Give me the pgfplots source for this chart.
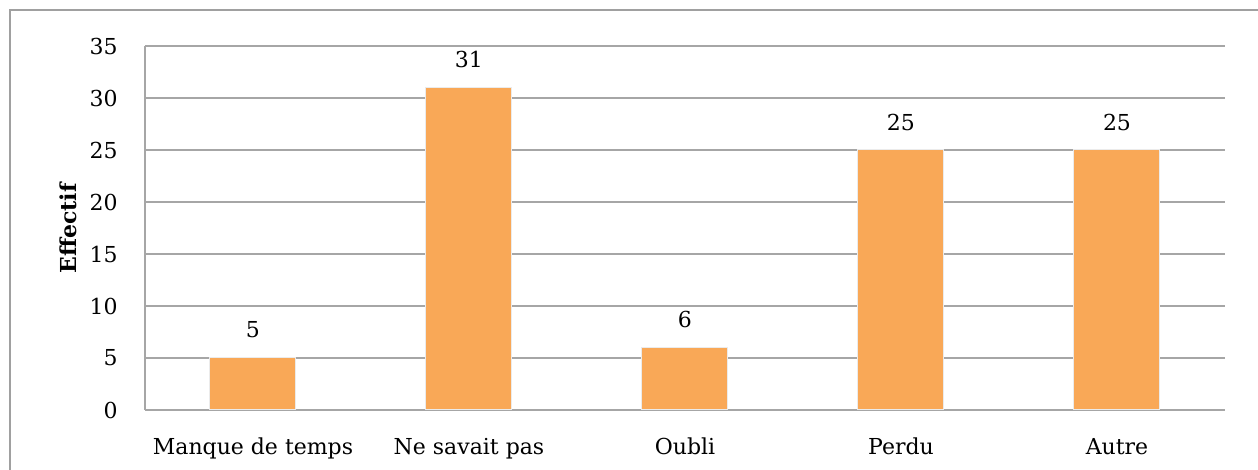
\documentclass[border=0pt]{standalone}
\usepackage{fontspec}
\setmainfont{DejaVu Serif}
\usepackage{pgfplots}
\pgfplotsset{compat=1.18}
\definecolor{barc}{HTML}{F9A857}
\definecolor{gridc}{HTML}{A6A6A6}
\definecolor{framec}{HTML}{A0A0A0}
\begin{document}
\fontsize{11pt}{13pt}\selectfont
\begin{tikzpicture}
\useasboundingbox (-72.5pt,-30pt) rectangle (556.5pt,205pt);
\begin{scope}
\clip (-72.5pt,-30pt) rectangle (556.5pt,205pt);
\draw[framec, line width=0.6pt] (-67.5pt,-60pt) rectangle (600pt,200pt);
\end{scope}
\begin{axis}[
  at={(0pt,0pt)}, anchor=south west,
  scale only axis,
  width=540pt, height=182pt,
  xmin=-0.5, xmax=4.5,
  ymin=0, ymax=35,
  ytick={0,5,...,35},
  xtick=data,
  xticklabels={Manque de temps, Ne savait pas, Oubli, Perdu, Autre},
  major tick length=0pt,
  axis x line*=bottom, axis y line*=left,
  axis line style={gridc, line width=0.65pt, -},
  ymajorgrids,
  grid style={gridc, line width=0.65pt},
  /pgf/number format/assume math mode=true,
  tick label style={font=\fontsize{11pt}{13pt}\selectfont},
  yticklabel style={anchor=east, inner sep=0pt, xshift=-13.5pt},
  xticklabel style={anchor=base, inner sep=0pt, yshift=-22.5pt},
  ylabel={\textbf{Effectif}},
  ylabel style={at={(axis description cs:-0.0713,0.5)}, anchor=center, font=\fontsize{11pt}{13pt}\selectfont},
  ybar, bar width=43pt,
  nodes near coords,
  every node near coord/.append style={anchor=center, yshift=14pt, font=\fontsize{11pt}{13pt}\selectfont, black},
]
\addplot[fill=barc, draw=white!92!black, line width=0.5pt] coordinates {(0,5) (1,31) (2,6) (3,25) (4,25)};
\end{axis}
\end{tikzpicture}
\end{document}
